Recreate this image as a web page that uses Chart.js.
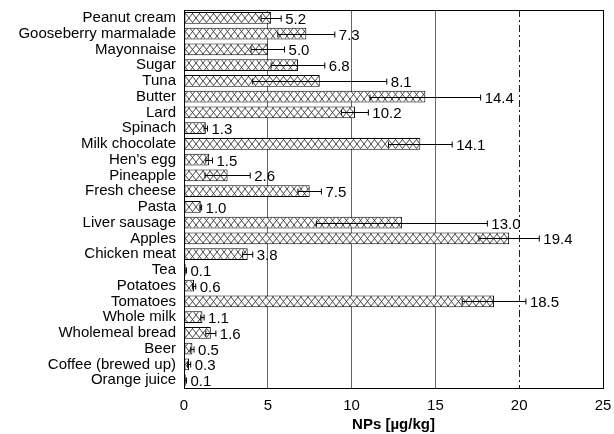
<!DOCTYPE html>
<html>
<head>
<meta charset="utf-8">
<script src="https://cdn.jsdelivr.net/npm/chart.js@4.4.1/dist/chart.umd.min.js"></script>
<style>
    html, body { margin: 0; padding: 0; background: #fff; }
    #wrap { width: 614px; height: 434px; }
</style>
</head>
<body>
<div id="wrap"><canvas id="npChart" width="614" height="434"></canvas></div>
<script>
//Data
const foods = ['Peanut cream', 'Gooseberry marmalade', 'Mayonnaise', 'Sugar', 'Tuna', 'Butter', 'Lard',
    'Spinach', 'Milk chocolate', "Hen's egg", 'Pineapple', 'Fresh cheese', 'Pasta', 'Liver sausage',
    'Apples', 'Chicken meat', 'Tea', 'Potatoes', 'Tomatoes', 'Whole milk', 'Wholemeal bread', 'Beer',
    'Coffee (brewed up)', 'Orange juice'];
const npValues = [5.2, 7.3, 5.0, 6.8, 8.1, 14.4, 10.2, 1.3, 14.1, 1.5, 2.6, 7.5, 1.0, 13.0,
    19.4, 3.8, 0.1, 0.6, 18.5, 1.1, 1.6, 0.5, 0.3, 0.1];
const npErrors = [0.6, 1.7, 1.0, 1.6, 4.0, 3.3, 0.8, 0.1, 1.9, 0.2, 1.35, 0.7, 0.05, 5.1,
    1.8, 0.3, 0.05, 0.1, 1.9, 0.1, 0.3, 0.1, 0.1, 0.05];
const xTicks = [0, 5, 10, 15, 20, 25];

const FONT = '"Liberation Sans", Arial, sans-serif';

function hatchPattern() {
    let c = document.createElement('canvas');
    c.width = 7;
    c.height = 9;
    let g = c.getContext('2d');
    g.fillStyle = '#fff';
    g.fillRect(0, 0, 7, 9);
    g.strokeStyle = '#333';
    g.lineWidth = 0.9;
    g.beginPath();
    g.moveTo(0, 0); g.lineTo(7, 9);
    g.moveTo(0, 9); g.lineTo(7, 0);
    g.stroke();
    return g.createPattern(c, 'repeat');
}

// error bars, value labels and the frame
const errorBarPlugin = {
    id: 'errorBars',
    afterDatasetsDraw(chart) {
        let ctx = chart.ctx;
        let xs = chart.scales.x;
        let meta = chart.getDatasetMeta(0);
        let area = chart.chartArea;
        ctx.save();
        ctx.strokeStyle = '#000';
        ctx.lineWidth = 1;
        ctx.strokeRect(area.left + 0.5, area.top + 0.5, area.right - area.left, area.bottom - area.top);
        ctx.font = '15px ' + FONT;
        ctx.fillStyle = '#000';
        ctx.textBaseline = 'middle';
        meta.data.forEach(function (bar, i) {
            let y = Math.round(bar.y) + 0.5;
            let lo = xs.getPixelForValue(Math.max(0, npValues[i] - npErrors[i]));
            let hi = xs.getPixelForValue(npValues[i] + npErrors[i]);
            ctx.beginPath();
            ctx.moveTo(lo, y); ctx.lineTo(hi, y);
            ctx.moveTo(lo, y - 3); ctx.lineTo(lo, y + 3);
            ctx.moveTo(hi, y - 3); ctx.lineTo(hi, y + 3);
            ctx.stroke();
            let tx = Math.max(hi, xs.getPixelForValue(npValues[i])) + 4;
            ctx.fillText(npValues[i].toFixed(1), tx, y + 1);
        });
        ctx.restore();
    }
};

let npChart = new Chart(document.getElementById('npChart').getContext('2d'), {
    type: 'bar',
    data: {
        labels: foods,
        datasets: [{
            data: npValues,
            backgroundColor: hatchPattern(),
            borderColor: '#000',
            borderWidth: 1,
            borderSkipped: false,
            barPercentage: 0.74,
            categoryPercentage: 1
        }]
    },
    options: {
        indexAxis: 'y',
        responsive: false,
        animation: false,
        layout: {padding: {top: 10, right: 11, left: 0, bottom: 0}},
        plugins: {
            legend: {display: false},
            tooltip: {enabled: false}
        },
        scales: {
            x: {
                min: 0,
                max: 25,
                afterBuildTicks: (scale) => { scale.ticks = xTicks.map(v => ({value: v})); },
                afterFit: (scale) => {
                    scale.height = 46;
                    scale.paddingLeft = 0;
                    scale.paddingRight = 0;
                },
                grid: {
                    color: (c) => c.tick && c.tick.value === 20 ? '#222' : '#666',
                    drawTicks: false
                },
                border: {
                    display: true,
                    color: '#000',
                    dash: (c) => c.tick && c.tick.value === 20 ? [7, 3, 2, 3] : []
                },
                ticks: {
                    color: '#000',
                    padding: 9,
                    font: {family: FONT, size: 15}
                },
                title: {
                    display: true,
                    text: 'NPs [µg/kg]',
                    color: '#000',
                    padding: {top: 0, bottom: 0},
                    font: {family: FONT, size: 15, weight: 'bold'}
                }
            },
            y: {
                afterFit: (scale) => {
                    scale.width = 184;
                    scale.paddingTop = 0;
                    scale.paddingBottom = 0;
                },
                grid: {display: false, drawTicks: false},
                border: {display: true, color: '#000'},
                ticks: {
                    color: '#000',
                    padding: 8,
                    autoSkip: false,
                    font: {family: FONT, size: 15}
                }
            }
        }
    },
    plugins: [errorBarPlugin]
});
</script>
</body>
</html>
